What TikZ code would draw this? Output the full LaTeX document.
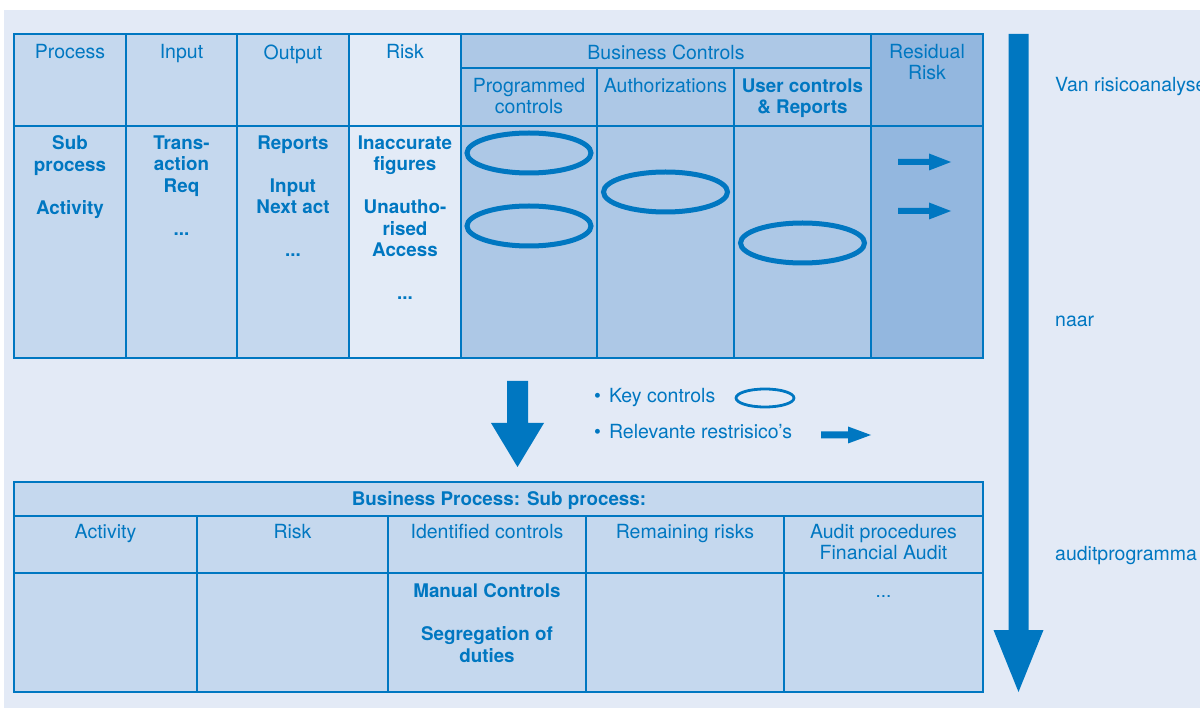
\documentclass[tikz,border=0pt]{standalone}
\usepackage{fontspec}
\setmainfont{TeX Gyre Heros}
\definecolor{bg}{HTML}{E3EAF6}
\definecolor{ink}{HTML}{0077C1}
\definecolor{cellA}{HTML}{C5D8EE}
\definecolor{cellRisk}{HTML}{E3EBF7}
\definecolor{cellCtl}{HTML}{ADC8E6}
\definecolor{cellRes}{HTML}{93B7DF}
\begin{document}
\begin{tikzpicture}[x=1pt,y=-1pt,
  grid/.style={draw=ink,line width=1.6pt},
  hd/.style={text=ink,font=\fontsize{19.5}{21}\selectfont,align=center,inner sep=0pt,anchor=north},
  bd/.style={text=ink,font=\fontsize{18.8}{21.5}\selectfont\bfseries,align=center,inner sep=0pt,anchor=north},
  side/.style={text=ink,font=\fontsize{19.5}{21}\selectfont,inner sep=0pt,anchor=base west},
  keyctl/.style={draw=ink,line width=5pt},
  solidarrow/.style={fill=ink}]
\useasboundingbox (0,0) rectangle (1200,708);
\fill[white] (0,0) rectangle (1200,708);
\fill[bg] (4,10) rectangle (1200,708);

% ---------- upper table: fills ----------
\fill[cellA]    (14,34)  rectangle (349,358);
\fill[cellRisk] (349,34) rectangle (461,358);
\fill[cellCtl]  (461,34) rectangle (871,358);
\fill[cellRes]  (871,34) rectangle (983,358);
% ---------- upper table: rules ----------
\draw[grid] (14,34) rectangle (983,358);
\draw[grid] (14,126) -- (983,126);
\draw[grid] (461,68) -- (871,68);
\foreach \cx in {126,237,349,461,871} \draw[grid] (\cx,34) -- (\cx,358);
\foreach \cx in {597,734} \draw[grid] (\cx,68) -- (\cx,358);

% header texts
\node[hd] (hProc) at (70,44.5)    {Process};
\node[hd] (hIn)   at (181.5,44.5) {Input};
\node[hd] (hOut)  at (293,44.5)   {Output};
\node[hd] (hRisk) at (405,44.5)   {Risk};
\node[hd] (hBC)   at (666,44.5)   {Business Controls};
\node[hd] (hRes)  at (927,44.5)   {Residual\\Risk};
\node[hd] (hProg) at (529,78.3)   {Programmed\\controls};
\node[hd] (hAuth) at (665.5,78.3) {Authorizations};
\node[bd] (hUser) at (802.5,78.5) {User controls\\\& Reports};

% body texts
\node[bd] (bProc) at (70,135.5)    {Sub\\process\\[21.5pt]Activity};
\node[bd] (bIn)   at (181.5,135.5) {Trans-\\action\\Req\\[21.5pt]...};
\node[bd] (bOut)  at (293,135.5)   {Reports\\[21.5pt]Input\\Next act\\[21.5pt]...};
\node[bd] (bRisk) at (405,135.5)   {Inaccurate\\figures\\[21.5pt]Unautho-\\rised\\Access\\[21.5pt]...};

% key controls
\draw[keyctl] (529,153) ellipse [x radius=62pt, y radius=20pt];
\draw[keyctl] (529,226) ellipse [x radius=62pt, y radius=20pt];
\draw[keyctl] (665.5,192) ellipse [x radius=62pt, y radius=20pt];
\draw[keyctl] (802.5,243) ellipse [x radius=62pt, y radius=20pt];

% residual risk arrows
\foreach \ay in {162,211}
  \fill[solidarrow] (898,\ay-3) -- (929,\ay-3) -- (929,\ay-8.5) -- (951,\ay)
        -- (929,\ay+8.5) -- (929,\ay+3) -- (898,\ay+3) -- cycle;

% ---------- transition arrow ----------
\fill[solidarrow] (507,381) -- (528,381) -- (528,423) -- (544,423) -- (517.5,467)
      -- (491,423) -- (507,423) -- cycle;

% ---------- legend ----------
\node[side] (lgKey) at (594,403) {\textbullet\hspace{8pt}Key controls};
\draw[ink,line width=2.8pt] (765,398) ellipse [x radius=29pt, y radius=9pt];
\node[side] (lgRes) at (594,439) {\textbullet\hspace{8pt}Relevante restrisico’s};
\fill[solidarrow] (821,431.5) -- (848,431.5) -- (848,426.5) -- (871,435)
      -- (848,443.5) -- (848,438.5) -- (821,438.5) -- cycle;

% ---------- lower table ----------
\fill[cellA] (14,482) rectangle (983,692);
\draw[grid] (14,482) rectangle (983,692);
\draw[grid] (14,516) -- (983,516);
\draw[grid] (14,573) -- (983,573);
\foreach \cx in {197,388,586,784} \draw[grid] (\cx,516) -- (\cx,692);

\node[bd] (tTitle) at (499,491.5) {Business Process: Sub process:};
\node[hd] (tAct)  at (105.5,524.3) {Activity};
\node[hd] (tRisk) at (292.5,524.3) {Risk};
\node[hd] (tIdc)  at (487,524.3)   {Identified controls};
\node[hd] (tRem)  at (685,524.3)   {Remaining risks};
\node[hd] (tAud)  at (883.5,524.3) {Audit procedures\\Financial Audit};
\node[bd] (tMan)  at (487,583.5)   {Manual Controls\\[21.5pt]Segregation of\\duties};
\node[text=ink,font=\fontsize{19}{21}\selectfont,inner sep=0pt,anchor=base] (tDots) at (883.5,597) {...};

% ---------- process flow arrow ----------
\fill[solidarrow] (1008.5,34) -- (1028.5,34) -- (1028.5,630) -- (1043.5,630)
      -- (1018.5,692) -- (993.5,630) -- (1008.5,630) -- cycle;
\node[side] (sFrom) at (1055,92)  {Van risicoanalyse};
\node[side] (sTo)   at (1055,327) {naar};
\node[side] (sEnd)  at (1055,560) {auditprogramma};
\end{tikzpicture}
\end{document}
